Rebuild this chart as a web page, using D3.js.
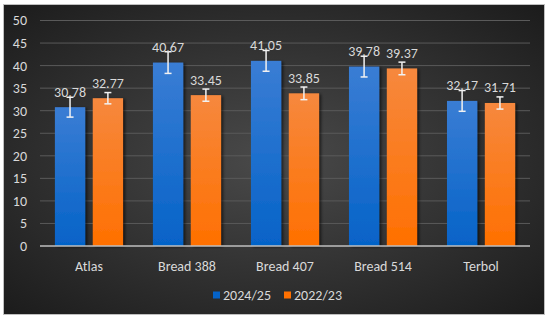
<!DOCTYPE html>
<html>
<head>
<meta charset="utf-8">
<script src="https://cdn.jsdelivr.net/npm/d3@7"></script>
<style>
body{margin:0;background:#fff;}
text{font-family:Calibri,Carlito,"Liberation Sans",sans-serif;}
</style>
</head>
<body>
<div id="chart"></div>
<script>
let categories=["Atlas","Bread 388","Bread 407","Bread 514","Terbol"];
let seriesNames=["2024/25","2022/23"];
let values2425=[30.78,40.67,41.05,39.78,32.17];
let values2223=[32.77,33.45,33.85,39.37,31.71];
let err2425=[2.2,2.4,2.3,2.3,2.3];
let err2223=[1.25,1.35,1.4,1.4,1.35];
let yTicks=[0,5,10,15,20,25,30,35,40,45,50];

let width=550, height=322;
let padLeft=40, padRight=530, padTop=20.5, padBottom=246;

let svg=d3.select("#chart").append("svg")
.attr("width",width).attr("height",height);

let defs=svg.append("defs");
let bg=defs.append("radialGradient").attr("id","bg")
.attr("cx","50%").attr("cy","50%").attr("r","70%");
bg.append("stop").attr("offset","0%").attr("stop-color","#4a4a4a");
bg.append("stop").attr("offset","100%").attr("stop-color","#1c1c1c");

let gBlue=defs.append("linearGradient").attr("id","gBlue").attr("x1",0).attr("y1",0).attr("x2",0).attr("y2",1);
gBlue.append("stop").attr("offset","0%").attr("stop-color","#3a7dd4");
gBlue.append("stop").attr("offset","100%").attr("stop-color","#0563c8");
let gOrange=defs.append("linearGradient").attr("id","gOrange").attr("x1",0).attr("y1",0).attr("x2",0).attr("y2",1);
gOrange.append("stop").attr("offset","0%").attr("stop-color","#f6883e");
gOrange.append("stop").attr("offset","100%").attr("stop-color","#ff7000");

let shadow=defs.append("filter").attr("id","shadow").attr("x","-20%").attr("y","-10%").attr("width","150%").attr("height","130%");
shadow.append("feDropShadow").attr("dx",2).attr("dy",1).attr("stdDeviation",1.5).attr("flood-color","#000").attr("flood-opacity",0.6);

// frame
svg.append("rect").attr("x",3.5).attr("y",4.5).attr("width",541).attr("height",310)
.attr("fill","url(#bg)").attr("stroke","#bfbfbf").attr("stroke-width",1);

let x0=d3.scaleBand().domain(categories).range([padLeft,padRight]).paddingInner(0.305).paddingOuter(0.152);
let x1=d3.scaleBand().domain(seriesNames).range([0,x0.bandwidth()]).paddingInner(0.2);
let y=d3.scaleLinear().domain([0,50]).range([padBottom,padTop]);

// grid
svg.append("g").selectAll("line").data(yTicks.slice(1)).enter().append("line")
.attr("x1",padLeft).attr("x2",padRight)
.attr("y1",d=>y(d)).attr("y2",d=>y(d))
.attr("stroke","#5a5a5a").attr("stroke-width",1);

let yAxis=d3.axisLeft(y).tickValues(yTicks).tickSize(0).tickPadding(13);
let ya=svg.append("g").attr("transform","translate("+padLeft+",0)").call(yAxis);
ya.select(".domain").remove();
ya.selectAll("text").attr("fill","#d9d9d9").attr("font-size",14);

let data=categories.map((c,i)=>[
 {cat:c,s:seriesNames[0],v:values2425[i],e:err2425[i],fill:"url(#gBlue)"},
 {cat:c,s:seriesNames[1],v:values2223[i],e:err2223[i],fill:"url(#gOrange)"}
]).flat();

svg.append("g").selectAll("rect").data(data).enter().append("rect")
.attr("x",d=>x0(d.cat)+x1(d.s))
.attr("y",d=>y(d.v))
.attr("width",x1.bandwidth())
.attr("height",d=>y(0)-y(d.v))
.attr("fill",d=>d.fill)
.attr("filter","url(#shadow)");

// x axis line
let xAxis=d3.axisBottom(x0).tickSize(0).tickPadding(15);
let xa=svg.append("g").attr("transform","translate(0,"+padBottom+")").call(xAxis);
xa.select(".domain").attr("stroke","#bfbfbf").attr("stroke-width",1.3).attr("d","M"+padLeft+",0H"+padRight);
xa.selectAll("text").attr("fill","#d9d9d9").attr("font-size",14);

// error bars
let eb=svg.append("g").attr("stroke","#f2f2f2").attr("stroke-width",1.5);
data.forEach(d=>{
 let cx=x0(d.cat)+x1(d.s)+x1.bandwidth()/2;
 eb.append("line").attr("x1",cx).attr("x2",cx).attr("y1",y(d.v+d.e)).attr("y2",y(d.v-d.e));
 eb.append("line").attr("x1",cx-3.5).attr("x2",cx+3.5).attr("y1",y(d.v+d.e)).attr("y2",y(d.v+d.e));
 eb.append("line").attr("x1",cx-3.5).attr("x2",cx+3.5).attr("y1",y(d.v-d.e)).attr("y2",y(d.v-d.e));
});

// data labels
svg.append("g").selectAll("text").data(data).enter().append("text")
.attr("x",d=>x0(d.cat)+x1(d.s)+x1.bandwidth()/2)
.attr("y",d=>y(d.v)-10.5)
.attr("text-anchor","middle")
.attr("fill","#d9d9d9").attr("font-size",14)
.text(d=>d.v.toFixed(2));

// legend
let legend=svg.append("g").attr("transform","translate(213,295)");
let lx=[0,71];
let lc=["#0563c8","#ff7000"];
seriesNames.forEach((s,i)=>{
 legend.append("rect").attr("x",lx[i]).attr("y",-3.5).attr("width",7).attr("height",7).attr("fill",lc[i]);
 legend.append("text").attr("x",lx[i]+10).attr("y",5).attr("fill","#d9d9d9").attr("font-size",14).text(s);
});
</script>
</body>
</html>
